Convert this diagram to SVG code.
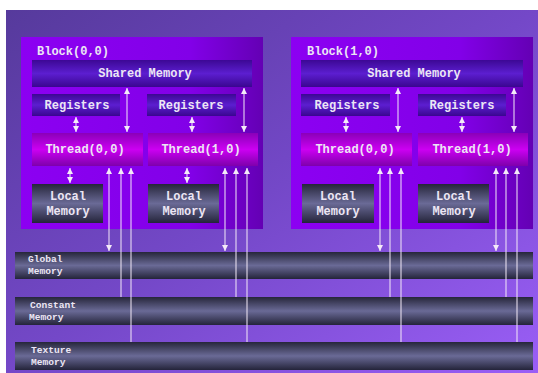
<svg xmlns="http://www.w3.org/2000/svg" width="538" height="373" viewBox="0 0 538 373">
<defs>
<linearGradient id="bg" x1="0" y1="0" x2="1" y2="1">
<stop offset="0" stop-color="#563a9c"/>
<stop offset="0.5" stop-color="#7448c8"/>
<stop offset="1" stop-color="#9a5ef6"/>
</linearGradient>
<linearGradient id="blk" x1="0" y1="0" x2="1" y2="0">
<stop offset="0" stop-color="#8c00f2"/>
<stop offset="0.7" stop-color="#8200e8"/>
<stop offset="1" stop-color="#6400b4"/>
</linearGradient>
<linearGradient id="sh" x1="0" y1="0" x2="0" y2="1">
<stop offset="0" stop-color="#3c0894"/>
<stop offset="0.5" stop-color="#5c1ed0"/>
<stop offset="1" stop-color="#3a0690"/>
</linearGradient>
<linearGradient id="th" x1="0" y1="0" x2="0" y2="1">
<stop offset="0" stop-color="#8a00b8"/>
<stop offset="0.5" stop-color="#cc00f2"/>
<stop offset="1" stop-color="#7e00ac"/>
</linearGradient>
<linearGradient id="mem" x1="0" y1="0" x2="0" y2="1">
<stop offset="0" stop-color="#26263a"/>
<stop offset="0.5" stop-color="#6a6a96"/>
<stop offset="1" stop-color="#24243a"/>
</linearGradient>
<marker id="ah" viewBox="0 0 6 6" refX="6" refY="3" markerWidth="6" markerHeight="6" markerUnits="userSpaceOnUse" orient="auto-start-reverse">
<path d="M0,0 L6,3 L0,6 z" fill="#f4eaf8"/>
</marker>
<style>
.t{font-family:"Liberation Mono","Courier New",monospace;font-weight:bold;font-size:12px;fill:#ece6f4}
.m{font-family:"Liberation Mono","Courier New",monospace;font-weight:bold;font-size:9.6px;fill:#ece6f4}
.a{stroke:#f4eaf8;stroke-width:1;fill:none}
.b{marker-start:url(#ah);marker-end:url(#ah)}
.u{marker-end:url(#ah)}
</style>
</defs>
<rect x="0" y="0" width="538" height="373" fill="#ffffff"/>
<rect x="6" y="10" width="532" height="363" fill="url(#bg)"/>

<g id="block00">
<rect x="21" y="37" width="242" height="192" fill="url(#blk)"/>
<text class="t" x="37" y="55">Block(0,0)</text>
</g>
<g id="block10">
<rect x="291" y="37" width="242" height="192" fill="url(#blk)"/>
<text class="t" x="307" y="55">Block(1,0)</text>
</g>

<g id="shared00"><rect x="32" y="60" width="220" height="27" fill="url(#sh)"/><text class="t" x="145" y="77" text-anchor="middle">Shared Memory</text></g>
<g id="shared10"><rect x="301" y="60" width="222" height="27" fill="url(#sh)"/><text class="t" x="414" y="77" text-anchor="middle">Shared Memory</text></g>

<g id="reg00_0"><rect x="32" y="94" width="88" height="22" fill="url(#sh)"/><text class="t" x="77" y="109" text-anchor="middle">Registers</text></g>
<g id="reg00_1"><rect x="147" y="94" width="89" height="22" fill="url(#sh)"/><text class="t" x="191" y="109" text-anchor="middle">Registers</text></g>
<g id="reg10_0"><rect x="301" y="94" width="89" height="22" fill="url(#sh)"/><text class="t" x="347" y="109" text-anchor="middle">Registers</text></g>
<g id="reg10_1"><rect x="418" y="94" width="88" height="22" fill="url(#sh)"/><text class="t" x="462" y="109" text-anchor="middle">Registers</text></g>

<g id="thr00_0"><rect x="32" y="133" width="111" height="33" fill="url(#th)"/><text class="t" x="85" y="153" text-anchor="middle">Thread(0,0)</text></g>
<g id="thr00_1"><rect x="148" y="133" width="110" height="33" fill="url(#th)"/><text class="t" x="201" y="153" text-anchor="middle">Thread(1,0)</text></g>
<g id="thr10_0"><rect x="301" y="133" width="111" height="33" fill="url(#th)"/><text class="t" x="355" y="153" text-anchor="middle">Thread(0,0)</text></g>
<g id="thr10_1"><rect x="418" y="133" width="110" height="33" fill="url(#th)"/><text class="t" x="472" y="153" text-anchor="middle">Thread(1,0)</text></g>

<g id="loc00_0"><rect x="32" y="184" width="71" height="39" fill="url(#mem)"/><text class="t" x="68" y="200" text-anchor="middle">Local</text><text class="t" x="68" y="215" text-anchor="middle">Memory</text></g>
<g id="loc00_1"><rect x="148" y="184" width="71" height="39" fill="url(#mem)"/><text class="t" x="184" y="200" text-anchor="middle">Local</text><text class="t" x="184" y="215" text-anchor="middle">Memory</text></g>
<g id="loc10_0"><rect x="302" y="184" width="72" height="39" fill="url(#mem)"/><text class="t" x="338" y="200" text-anchor="middle">Local</text><text class="t" x="338" y="215" text-anchor="middle">Memory</text></g>
<g id="loc10_1"><rect x="418" y="184" width="71" height="39" fill="url(#mem)"/><text class="t" x="454" y="200" text-anchor="middle">Local</text><text class="t" x="454" y="215" text-anchor="middle">Memory</text></g>

<g id="global"><rect x="15" y="252" width="518" height="27" fill="url(#mem)"/><text class="m" x="28" y="262">Global</text><text class="m" x="28" y="274">Memory</text></g>
<g id="constant"><rect x="15" y="297" width="518" height="28" fill="url(#mem)"/><text class="m" x="30" y="308">Constant</text><text class="m" x="29" y="320">Memory</text></g>
<g id="texture"><rect x="15" y="342" width="518" height="28" fill="url(#mem)"/><text class="m" x="31" y="353">Texture</text><text class="m" x="31" y="365">Memory</text></g>

<g id="connectors">
<path class="a b" d="M127,88 V132"/>
<path class="a b" d="M244,88 V132"/>
<path class="a b" d="M398,88 V132"/>
<path class="a b" d="M514,88 V132"/>
<path class="a b" d="M76,117 V132"/>
<path class="a b" d="M192,117 V132"/>
<path class="a b" d="M346,117 V132"/>
<path class="a b" d="M462,117 V132"/>
<path class="a b" d="M70,168 V183"/>
<path class="a b" d="M187,168 V183"/>
<path class="a b" d="M109,168 V251"/>
<path class="a b" d="M225,168 V251"/>
<path class="a b" d="M380,168 V251"/>
<path class="a b" d="M496,168 V251"/>
<path class="a u" d="M121,297 V168"/>
<path class="a u" d="M236,297 V168"/>
<path class="a u" d="M390,297 V168"/>
<path class="a u" d="M506,297 V168"/>
<path class="a u" d="M131,342 V168"/>
<path class="a u" d="M247,342 V168"/>
<path class="a u" d="M401,342 V168"/>
<path class="a u" d="M517,342 V168"/>
</g>
</svg>
